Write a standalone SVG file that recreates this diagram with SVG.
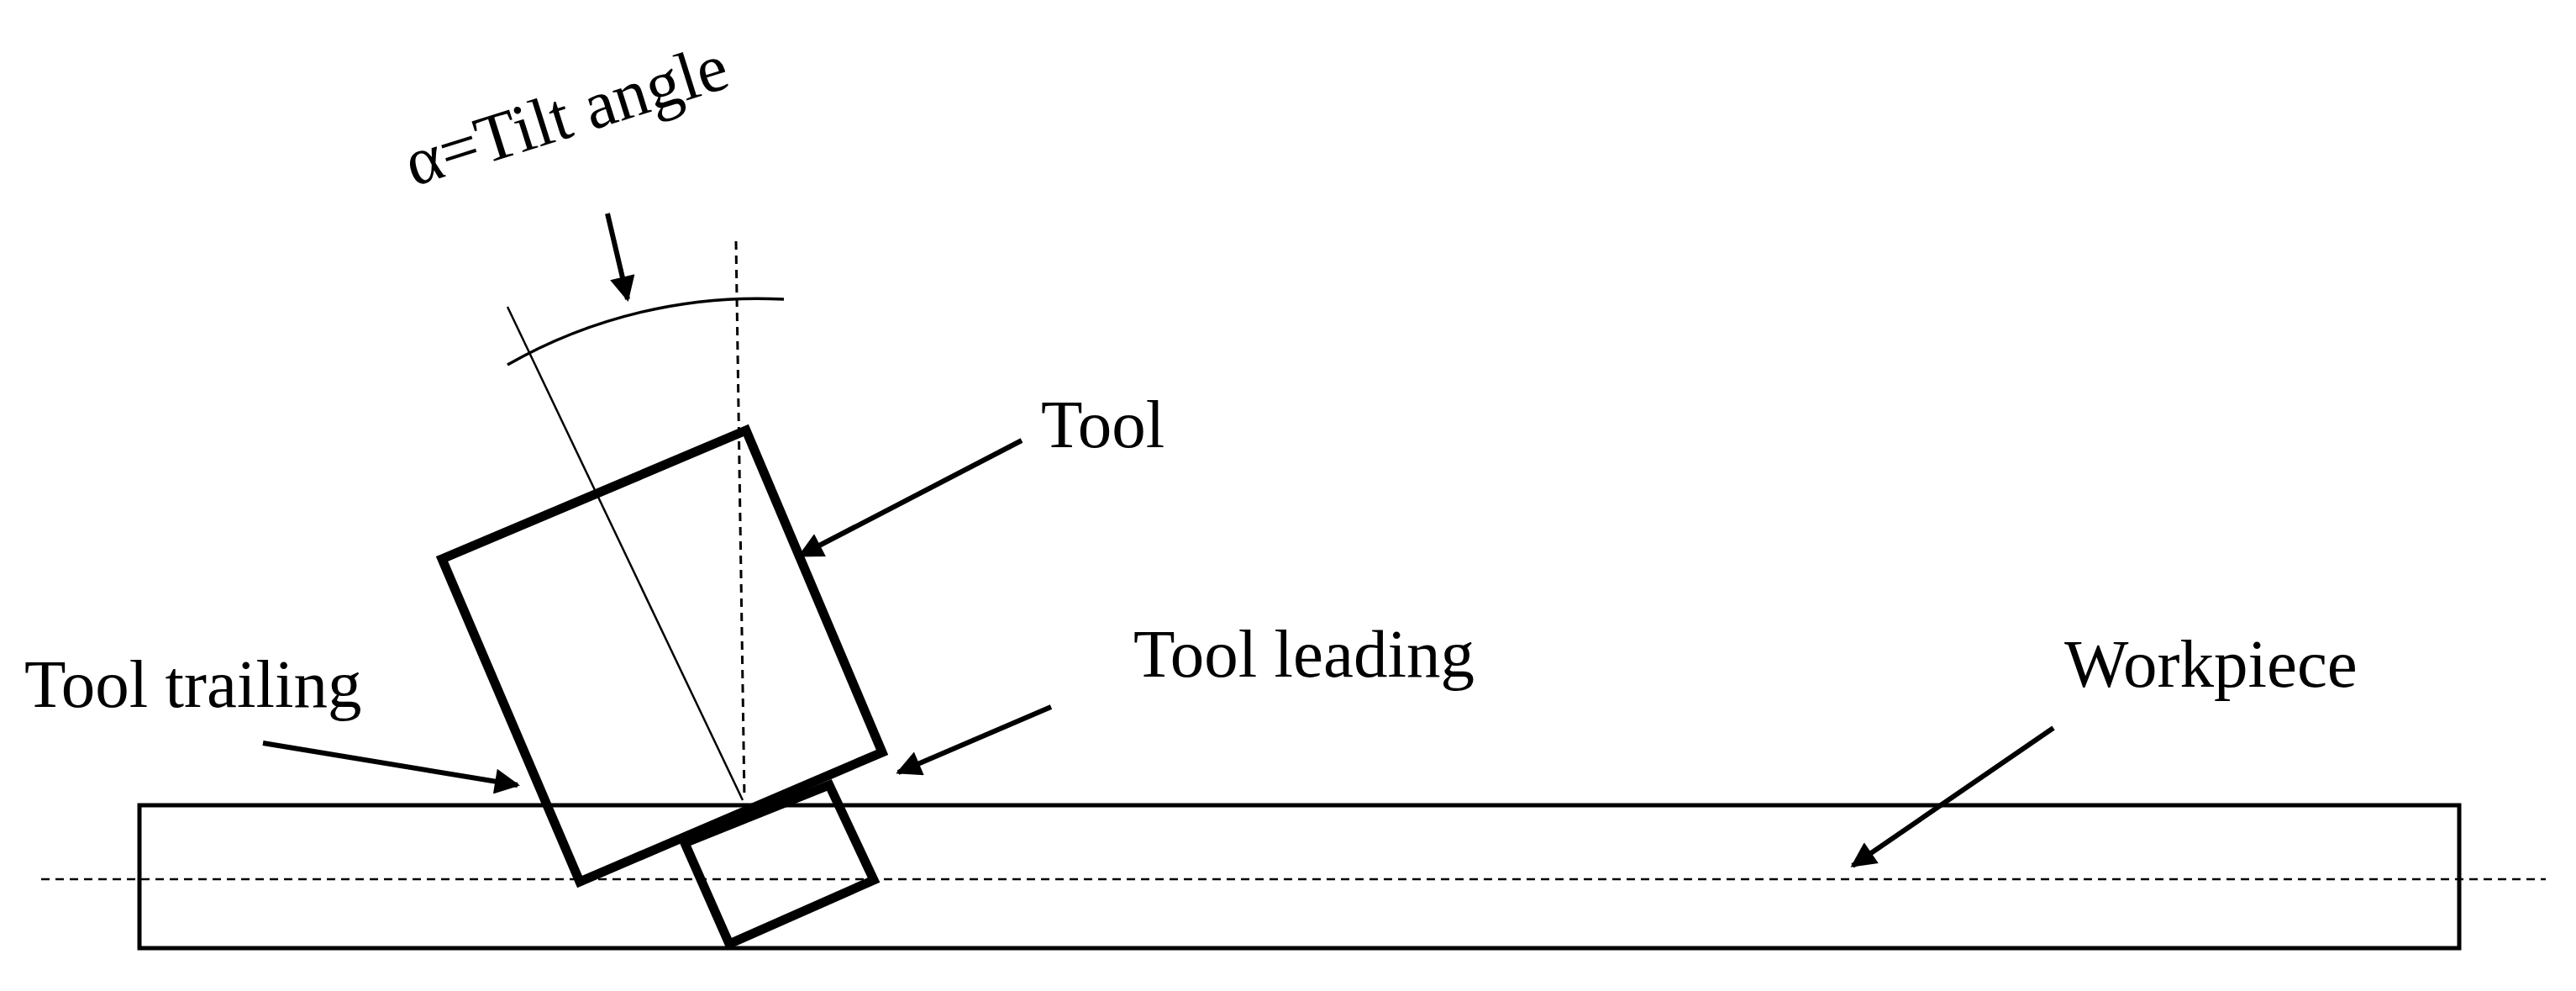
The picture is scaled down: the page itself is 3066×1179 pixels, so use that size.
<svg xmlns="http://www.w3.org/2000/svg" width="3066" height="1179" viewBox="0 0 3066 1179">
<defs>
<marker id="ah" viewBox="0 0 10 10" refX="9" refY="5" markerWidth="7" markerHeight="5" orient="auto" markerUnits="strokeWidth"><path d="M0,0 L10,5 L0,10 z" fill="#000"/></marker>
</defs>
<style>
text{font-family:"Liberation Serif","Times New Roman",serif;font-size:81px;fill:#000}
.arrow{stroke:#000;stroke-width:6;fill:none;marker-end:url(#ah)}
</style>
<rect width="3066" height="1179" fill="#fff"/>
<g id="workpiece"><rect x="166" y="958" width="2761" height="170" fill="none" stroke="#000" stroke-width="5"/></g>
<line x1="49" y1="1046" x2="3030" y2="1046" stroke="#000" stroke-width="2.5" stroke-dasharray="10,7"/>
<g id="tool">
<polygon points="526,665 888,512 1050,895 690,1049" fill="none" stroke="#000" stroke-width="11" stroke-linejoin="miter"/>
<polygon points="815,1003 987,934 1040,1047 868,1123" fill="none" stroke="#000" stroke-width="11"/>
<line x1="604" y1="365" x2="884" y2="952" stroke="#000" stroke-width="2.5"/>
<line x1="876" y1="287" x2="886" y2="950" stroke="#000" stroke-width="3" stroke-dasharray="10,7"/>
<path d="M604,434 A600,600 0 0 1 933,356" fill="none" stroke="#000" stroke-width="3.5"/>
</g>
<g id="connectors">
<line class="arrow" x1="723" y1="254" x2="747" y2="356"/>
<line class="arrow" x1="1216" y1="524" x2="952" y2="661"/>
<line class="arrow" x1="1251" y1="841" x2="1069" y2="919"/>
<line class="arrow" x1="313" y1="884" x2="616" y2="934"/>
<line class="arrow" x1="2444" y1="866" x2="2205" y2="1030"/>
</g>
<g id="labels">
<text transform="translate(492,222) rotate(-17.5)">α=Tilt angle</text>
<text x="1239" y="532">Tool</text>
<text x="1349" y="805">Tool leading</text>
<text x="29" y="841">Tool trailing</text>
<text x="2457" y="817">Workpiece</text>
</g>
</svg>
